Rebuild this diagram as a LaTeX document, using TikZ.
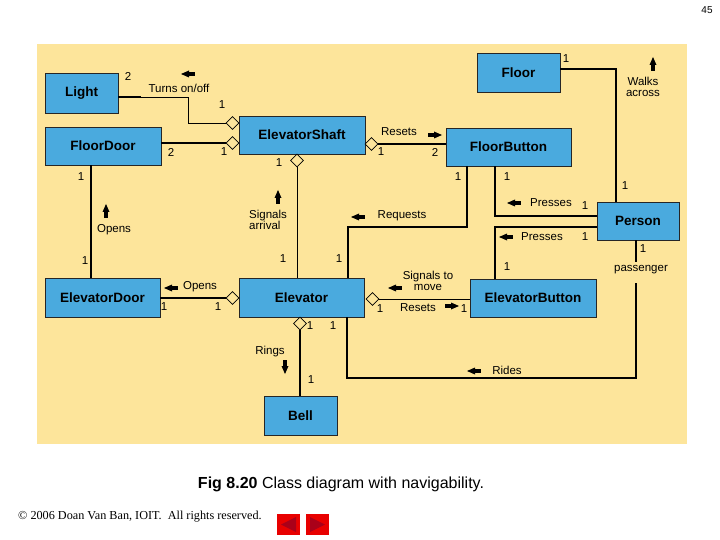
\documentclass[tikz,border=0pt]{standalone}
\usepackage{fontspec}
\setmainfont{Liberation Sans}
\newfontfamily\notefont{Liberation Serif}
\usetikzlibrary{shapes.geometric}
\definecolor{panel}{RGB}{253,229,155}
\definecolor{classblue}{RGB}{74,170,222}
\definecolor{navred}{RGB}{232,0,0}
\definecolor{navdark}{RGB}{170,0,25}
\tikzset{
  cls/.style={draw=black!85, fill=classblue, inner sep=0pt,
    font=\bfseries\fontsize{13.5}{15}\selectfont},
  lbl/.style={inner sep=0pt, align=center, font=\fontsize{11.5}{11}\selectfont},
  mult/.style={inner sep=0pt, font=\fontsize{11.5}{12}\selectfont},
  agg/.style={diamond, draw, fill=panel, inner sep=0pt, line width=0.7pt,
    minimum width=13pt, minimum height=13pt},
  assoc/.style={line width=2pt},
  thinassoc/.style={line width=0.9pt},
  navtip/.pic={
    \fill (-7,0) -- (1,-3.5) -- (1,3.5) -- cycle;
    \fill (0,-1.6) rectangle (7,1.6);
  }
}
\begin{document}
\begin{tikzpicture}[x=1pt,y=-1pt]
\useasboundingbox (0,0) rectangle (720,540);
\fill[panel] (37,44) rectangle (687,444);
\node[font=\fontsize{10}{11}\selectfont] (pageno) at (707,10) {45};

% Classes
\node[cls, minimum width=73pt, minimum height=40pt] (light) at (81.5,93) {Light};
\node[cls, minimum width=116pt, minimum height=38pt] (floordoor) at (103,146) {FloorDoor};
\node[cls, minimum width=126pt, minimum height=38pt] (shaft) at (302,135) {ElevatorShaft};
\node[cls, minimum width=83pt, minimum height=39pt] (floor) at (518.5,72.5) {Floor};
\node[cls, minimum width=125pt, minimum height=38pt] (floorbutton) at (508.5,147) {FloorButton};
\node[cls, minimum width=82pt, minimum height=38pt] (person) at (638,221) {Person};
\node[cls, minimum width=115pt, minimum height=39pt] (elevatordoor) at (102.5,297.5) {ElevatorDoor};
\node[cls, minimum width=125pt, minimum height=39pt] (elevator) at (301.5,297.5) {Elevator};
\node[cls, minimum width=126pt, minimum height=38pt] (elevatorbutton) at (533,298) {ElevatorButton};
\node[cls, minimum width=73pt, minimum height=39pt] (bell) at (300.5,415.5) {Bell};

% Aggregation diamonds
\node[agg] (dLight) at (232.5,123) {};
\node[agg] (dFloorDoor) at (232.5,143) {};
\node[agg] (dFloorButton) at (371.5,144) {};
\node[agg] (dElevator) at (297,160.5) {};
\node[agg] (dElevatorDoor) at (232.5,298) {};
\node[agg] (dElevatorButton) at (372.5,299) {};
\node[agg] (dBell) at (300,323.5) {};

% Connectors
\draw[assoc] ([yshift=-4pt]light.east) -- ++(23,0);
\draw[thinassoc] ([yshift=-4pt]light.east) -- ++(70,0) |- (dLight.west);
\draw[assoc] (floordoor.east |- dFloorDoor.west) -- (dFloorDoor.west);
\draw[assoc] (dFloorButton.east) -- (dFloorButton.east -| floorbutton.west);
\draw[thinassoc] (dElevator.south) -- (dElevator.south |- elevator.north);
\draw[assoc] ([xshift=-12pt]floordoor.south) -- ([xshift=-12pt]floordoor.south |- elevatordoor.north);
\draw[assoc] (elevatordoor.east |- dElevatorDoor.west) -- (dElevatorDoor.west);
\draw[thinassoc] (dElevatorButton.east) -- (dElevatorButton.east -| elevatorbutton.west);
\draw[assoc] (dBell.south) -- (dBell.south |- bell.north);
\draw[assoc] ([xshift=46.5pt]elevator.north) |- ([xshift=-41.5pt,yshift=-61pt]floorbutton.south)
  -- ([xshift=-41.5pt]floorbutton.south);
\draw[assoc] ([xshift=-13.5pt]floorbutton.south) |- ([yshift=5pt]person.west);
\draw[assoc] ([yshift=-6pt]person.west) -| ([xshift=-38pt]elevatorbutton.north);
\draw[assoc] ([yshift=3.5pt]floor.east) -| ([xshift=-22pt]person.north);
\draw[assoc] ([xshift=-2pt]person.south) -- ++(0,22);
\coordinate (rideTop) at (636,283);
\draw[assoc] (rideTop) |- ([xshift=45.5pt,yshift=-61pt]elevator.south) -- ([xshift=45.5pt]elevator.south);

% Labels, multiplicities and direction marks
\node[mult] (m1) at (128,76) {2};
\node[lbl] (tTurns) at (179,88) {Turns on/off};
\pic (nTurns) at (188,74) {navtip};
\node[mult] (m2) at (222,105) {1};
\node[mult] (m3) at (171,152) {2};
\node[mult] (m4) at (224,152) {1};
\node[mult] (m5) at (279,163) {1};
\node[lbl] (tResets1) at (399,132) {Resets};
\pic[rotate=180] (nResets1) at (435,135) {navtip};
\node[mult] (m6) at (381,152) {1};
\node[mult] (m7) at (435,152) {2};
\node[mult] (m8) at (566,59) {1};
\node[lbl] (tWalks) at (643,87) {Walks\\across};
\pic[rotate=-90] (nWalks) at (653,64) {navtip};
\node[mult] (m9) at (81,177) {1};
\node[lbl] (tOpens1) at (114,230) {Opens};
\pic[rotate=-90] (nOpens1) at (106,211) {navtip};
\node[mult] (m10) at (85,261) {1};
\node[lbl, align=left] (tSignals) at (268,220) {Signals\\arrival};
\pic[rotate=-90] (nSignals) at (278,197) {navtip};
\node[mult] (m11) at (283,259) {1};
\node[lbl] (tRequests) at (402,216) {Requests};
\pic (nRequests) at (358,217) {navtip};
\node[mult] (m12) at (458,177) {1};
\node[mult] (m13) at (339,259) {1};
\node[mult] (m14) at (507,177) {1};
\node[lbl] (tPresses1) at (551,203) {Presses};
\pic (nPresses1) at (514,203) {navtip};
\node[mult] (m15) at (585,206) {1};
\node[mult] (m16) at (625,186) {1};
\node[lbl] (tPresses2) at (542,237) {Presses};
\pic (nPresses2) at (506,237) {navtip};
\node[mult] (m17) at (585,237) {1};
\node[mult] (m18) at (507,267) {1};
\node[mult] (m19) at (643,249) {1};
\node[lbl] (tPassenger) at (641,270) {passenger};
\node[lbl] (tOpens2) at (200,287) {Opens};
\pic (nOpens2) at (171,288) {navtip};
\node[mult] (m20) at (164,307) {1};
\node[mult] (m21) at (218,307) {1};
\node[lbl] (tSignalsMove) at (428,281) {Signals to\\move};
\pic (nSignalsMove) at (395,288) {navtip};
\node[lbl] (tResets2) at (418,308) {Resets};
\pic[rotate=180] (nResets2) at (452,306) {navtip};
\node[mult] (m22) at (380,309) {1};
\node[mult] (m23) at (464,309) {1};
\node[lbl] (tRings) at (270,352) {Rings};
\pic[rotate=90] (nRings) at (285,367) {navtip};
\node[mult] (m24) at (311,380) {1};
\node[mult] (m25) at (310,326) {1};
\node[mult] (m26) at (333,326) {1};
\node[lbl] (tRides) at (507,370) {Rides};
\pic (nRides) at (474,371) {navtip};

% Caption and footer
\node[font=\fontsize{16}{18}\selectfont] (caption) at (341,484)
  {\textbf{Fig 8.20} Class diagram with navigability.};
\node[font=\notefont\fontsize{12.2}{14}\selectfont, anchor=west, inner sep=0pt] (copy) at (18,517)
  {© 2006 Doan Van Ban, IOIT.\ \ All rights reserved.};
\fill[navred] (277,514) rectangle (300,535);
\fill[navdark] (281,524.5) -- (296,517) -- (296,532) -- cycle;
\fill[navred] (306,514) rectangle (329,535);
\fill[navdark] (325,524.5) -- (310,517) -- (310,532) -- cycle;
\end{tikzpicture}
\end{document}
